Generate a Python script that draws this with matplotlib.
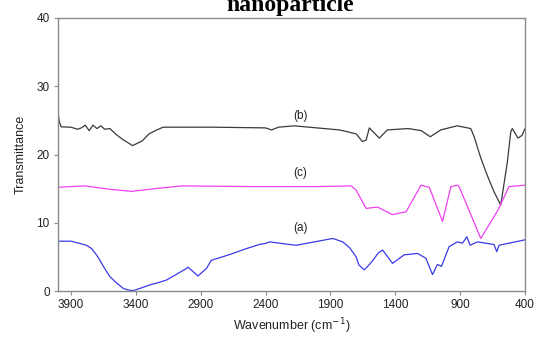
import matplotlib
matplotlib.use("Agg")
import matplotlib.pyplot as plt
import numpy as np

# FTIR spectra (wavenumber cm-1, transmittance)
wn_a = [4000, 3900, 3780, 3740, 3700, 3677, 3650, 3600, 3550, 3498, 3460, 3421, 3350,
        3292, 3250, 3164, 3100, 3010, 2998, 2921, 2856, 2818, 2750, 2652, 2550, 2450,
        2395, 2369, 2250, 2164, 2050, 1882, 1805, 1750, 1702, 1680, 1638, 1580, 1530,
        1498, 1421, 1331, 1228, 1164, 1113, 1075, 1044, 985, 921, 882, 848, 823, 767,
        638, 618, 600, 400]
tr_a = [7.3, 7.3, 6.7, 6.2, 5.2, 4.5, 3.6, 2.1, 1.2, 0.4, 0.15, 0.05, 0.5,
        0.9, 1.1, 1.6, 2.3, 3.3, 3.5, 2.2, 3.3, 4.5, 4.9, 5.5, 6.2, 6.8,
        7.0, 7.2, 6.9, 6.7, 7.1, 7.7, 7.2, 6.3, 5.0, 3.8, 3.1, 4.3, 5.6,
        6.0, 4.05, 5.3, 5.5, 4.8, 2.4, 3.9, 3.6, 6.5, 7.2, 7.0, 7.95, 6.7, 7.2,
        6.8, 5.75, 6.7, 7.5]

wn_b = [4000, 3990, 3975, 3900, 3850, 3820, 3790, 3760, 3730, 3700, 3670, 3640, 3600,
        3550, 3500, 3425, 3350, 3300, 3250, 3190, 2800, 2400, 2355, 2300, 2180, 1830,
        1760, 1700, 1654, 1625, 1600, 1523, 1462, 1300, 1200, 1130, 1050, 923, 818, 792,
        741, 692, 638, 587, 536, 510, 498, 454, 423, 400]
tr_b = [26.2, 24.8, 24.05, 24.0, 23.7, 23.9, 24.3, 23.5, 24.3, 23.8, 24.2, 23.7, 23.8,
        22.9, 22.2, 21.3, 22.0, 23.0, 23.5, 24.0, 24.0, 23.9, 23.6, 24.0, 24.2, 23.6,
        23.3, 23.0, 21.9, 22.1, 23.9, 22.4, 23.6, 23.8, 23.5, 22.6, 23.6, 24.2, 23.8, 22.6,
        19.5, 17.0, 14.5, 12.6, 18.9, 23.3, 23.8, 22.4, 22.8, 23.8]

wn_c = [4000, 3900, 3792, 3600, 3433, 3250, 3048, 2500, 2000, 1740, 1702, 1625, 1538,
        1423, 1317, 1202, 1138, 1036, 971, 921, 908, 741, 610, 523, 400]
tr_c = [15.2, 15.3, 15.4, 14.9, 14.6, 15.0, 15.4, 15.3, 15.3, 15.4, 14.8, 12.1, 12.3,
        11.2, 11.6, 15.5, 15.2, 10.2, 15.3, 15.5, 15.3, 7.7, 11.8, 15.3, 15.5]

labels = ["(a)", "(b)", "(c)"]
label_pos = [(2130, 9.2), (2130, 25.6), (2130, 17.3)]
colors = ["#3a3ae8", "#3a3a3a", "#f040f0"]

fig = plt.figure(figsize=(5.37, 3.41), dpi=100)
ax = fig.add_axes([58 / 537, 50 / 341, 467 / 537, 273 / 341])

for wn, tr, c in [(wn_a, tr_a, colors[0]), (wn_b, tr_b, colors[1]), (wn_c, tr_c, colors[2])]:
    ax.plot(wn, tr, color=c, lw=0.9)

for lab, (x, y) in zip(labels, label_pos):
    ax.text(x, y, lab, fontsize=8.5, family="Liberation Sans", ha="center", va="center", color="#222222")

ax.set_xlim(4000, 400)
ax.set_ylim(0, 40)
ax.set_xticks([3900, 3400, 2900, 2400, 1900, 1400, 900, 400])
ax.set_yticks([0, 10, 20, 30, 40])
for s in ax.spines.values():
    s.set_color("#8a8a8a")
    s.set_linewidth(1.0)
ax.tick_params(direction="out", length=3, width=0.8, color="#8a8a8a", labelsize=8.5, pad=3)
for t in ax.get_xticklabels() + ax.get_yticklabels():
    t.set_family("Liberation Sans")
    t.set_color("#222222")

ax.set_xlabel("Wavenumber (cm$^{-1}$)", fontsize=9, family="Liberation Sans", labelpad=4, color="#222222")
ax.set_ylabel("Transmittance", fontsize=9, family="Liberation Sans", labelpad=7, color="#222222")

# title is cut off at the top edge in the original
fig.text(290 / 537, 1 - 11.5 / 341, "nanoparticle", fontsize=17, family="Liberation Serif",
         weight="bold", ha="center", va="baseline")

fig.savefig("out.png", dpi=100)
